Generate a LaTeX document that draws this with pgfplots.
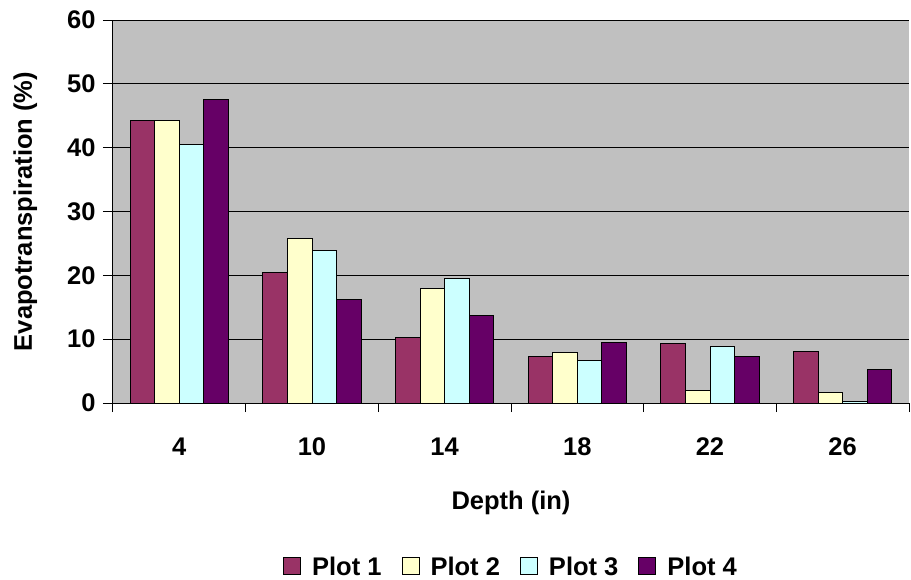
\documentclass[border=0pt]{standalone}
\usepackage{fontspec}
\setmainfont{Liberation Sans}
\usepackage{pgfplots}
\pgfplotsset{compat=1.18}
\definecolor{pone}{HTML}{993366}
\definecolor{ptwo}{HTML}{FFFFCC}
\definecolor{pthree}{HTML}{CCFFFF}
\definecolor{pfour}{HTML}{660066}
\definecolor{bg}{HTML}{C0C0C0}
\newcommand{\cf}{\bfseries\fontsize{25.5}{28}\selectfont}
\begin{document}
\begin{tikzpicture}[x=1pt,y=1pt]
\begin{axis}[
  at={(113pt,176pt)}, anchor=south west,
  width=796pt, height=383pt, scale only axis,
  xmin=-0.5, xmax=5.5, ymin=0, ymax=60,
  axis background/.style={fill=bg},
  axis x line*=bottom, axis y line*=left,
  axis line style={black, line width=1pt},
  ytick={0,10,...,60},
  ymajorgrids, major grid style={black, line width=1pt},
  xtick={0,...,5}, xticklabels={4,10,14,18,22,26},
  major x tick style={draw=none},
  minor xtick={-0.5,0.5,...,5.5},
  minor tick length=9pt,
  major tick length=10pt,
  tick align=outside,
  tick style={black, line width=1pt},
  xticklabel style={anchor=base, yshift=-42pt},
  yticklabel style={anchor=east, xshift=-4pt},
  /pgf/number format/assume math mode=true,
  tick label style={font=\cf},
  xlabel={Depth (in)},
  ylabel={Evapotranspiration (\%)},
  every axis x label/.style={at={(axis description cs:0.5,-0.279)}, anchor=base, font=\cf},
  every axis y label/.style={at={(axis description cs:-0.102,0.5)}, rotate=90, anchor=base, font=\cf},
  ybar, bar width=0.185,
  legend columns=4,
  legend style={draw=none, fill=none, at={(axis description cs:0.5,-0.427)}, anchor=center,
    font=\cf, inner sep=0pt,
    /tikz/every odd column/.append style={column sep=9pt},
    /tikz/every even column/.append style={column sep=18pt}},
  legend image code/.code={\draw[#1, draw=black, line width=1pt] (0pt,-8pt) rectangle (17pt,9pt);},
  every axis plot/.append style={draw=black, line width=1pt},
]
\addplot[fill=pone, bar shift=-0.2775] coordinates {(0,44.2) (1,20.5) (2,10.2) (3,7.25) (4,9.3) (5,8.0)};
\addplot[fill=ptwo, bar shift=-0.0925] coordinates {(0,44.2) (1,25.7) (2,17.9) (3,7.9) (4,1.95) (5,1.7)};
\addplot[fill=pthree, bar shift=0.0925] coordinates {(0,40.5) (1,23.9) (2,19.5) (3,6.7) (4,8.8) (5,0.25)};
\addplot[fill=pfour, bar shift=0.2775] coordinates {(0,47.5) (1,16.2) (2,13.7) (3,9.4) (4,7.25) (5,5.3)};
\legend{Plot 1,Plot 2,Plot 3,Plot 4}
\end{axis}
\path (0,0) rectangle (911pt,579pt);
\end{tikzpicture}
\end{document}
